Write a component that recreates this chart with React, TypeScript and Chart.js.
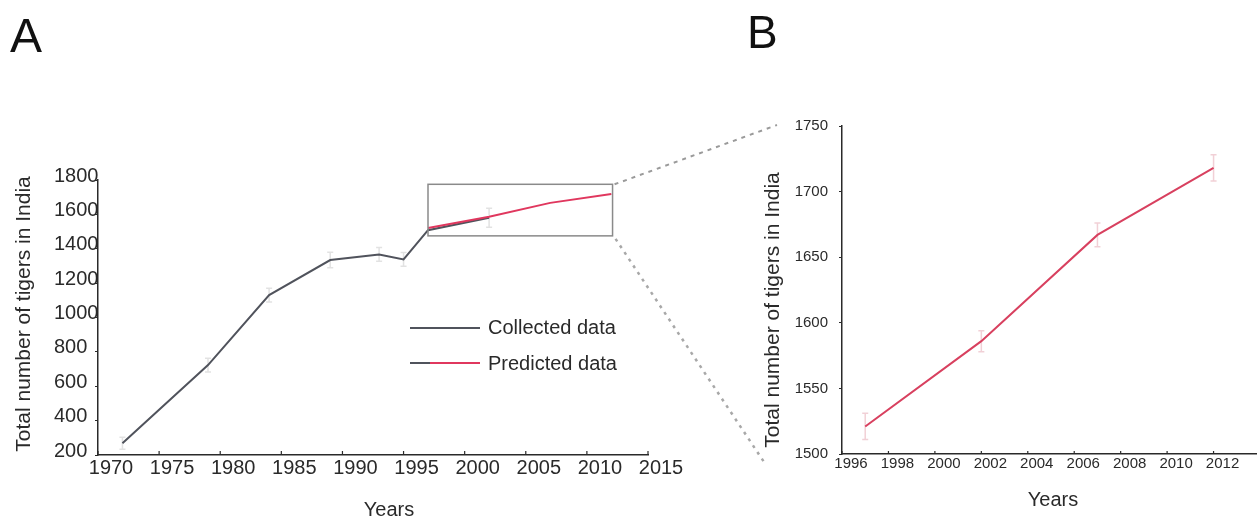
import React, { useEffect, useRef } from "react";
import { Chart, registerables } from "chart.js";

Chart.register(...registerables);

const FONT = '"Liberation Sans", Arial, Helvetica, sans-serif';

// ---- data ----
const collectedYears = [1972, 1979, 1984, 1989, 1993, 1995, 1997, 2002];
const collectedValues = [268, 723, 1130, 1334, 1367, 1338, 1508, 1580];
const collectedErrors = [35, 40, 40, 45, 40, 40, 0, 55];

const predictedYears = [1997, 2002, 2007, 2012];
const predictedValues = [1521, 1586, 1667, 1718];
const predictedErrors = [10, 8, 9, 10];

const leftXTicks = [1970, 1975, 1980, 1985, 1990, 1995, 2000, 2005, 2010, 2015];
const leftYTicks = [200, 400, 600, 800, 1000, 1200, 1400, 1600, 1800];
const rightXTicks = [1996, 1998, 2000, 2002, 2004, 2006, 2008, 2010, 2012];
const rightYTicks = [1500, 1550, 1600, 1650, 1700, 1750];

const zoomBoxYears = [1997, 2012.1];
const zoomBoxValues = [1475, 1775];

const legendLabels = ["Collected data", "Predicted data"];
const xTitle = "Years";
const yTitle = "Total number of tigers in India";

const GRAY = "#50535c";
const RED = "#e0375e";
const RED_B = "#d8405f";
const AXIS = "#2a2a2a";

const errorBarPlugin = {
  id: "errorBars",
  beforeDatasetsDraw(chart: any) {
    const ctx = chart.ctx;
    const yS = chart.scales.y;
    chart.data.datasets.forEach((ds: any, i: number) => {
      if (!ds.errors) return;
      const meta = chart.getDatasetMeta(i);
      ctx.save();
      ctx.strokeStyle = ds.errorColor;
      ctx.lineWidth = 1.5;
      meta.data.forEach((pt: any, j: number) => {
        const e = ds.errors[j];
        if (!e) return;
        const v = ds.data[j].y;
        const y0 = yS.getPixelForValue(v - e);
        const y1 = yS.getPixelForValue(v + e);
        ctx.beginPath();
        ctx.moveTo(pt.x, y0);
        ctx.lineTo(pt.x, y1);
        ctx.moveTo(pt.x - 3, y0);
        ctx.lineTo(pt.x + 3, y0);
        ctx.moveTo(pt.x - 3, y1);
        ctx.lineTo(pt.x + 3, y1);
        ctx.stroke();
      });
      ctx.restore();
    });
  },
};

function inwardTicks(chart: any, values: number[], len: number) {
  const ctx = chart.ctx;
  const xS = chart.scales.x;
  const b = chart.chartArea.bottom;
  ctx.save();
  ctx.strokeStyle = AXIS;
  ctx.lineWidth = 1.2;
  values.forEach((v) => {
    const px = xS.getPixelForValue(v);
    ctx.beginPath();
    ctx.moveTo(px, b);
    ctx.lineTo(px, b - len);
    ctx.stroke();
  });
  ctx.restore();
}

function drawText(ctx: any, text: string, x: number, y: number, size: number, rot = 0, color = "#2a2a2a") {
  ctx.save();
  ctx.translate(x, y);
  ctx.rotate(rot);
  ctx.font = `${size}px ${FONT}`;
  ctx.fillStyle = color;
  ctx.textAlign = "center";
  ctx.textBaseline = "middle";
  ctx.fillText(text, 0, 0);
  ctx.restore();
}

const leftDecor = {
  id: "leftDecor",
  afterDraw(chart: any) {
    const ctx = chart.ctx;
    const xS = chart.scales.x;
    const yS = chart.scales.y;
    inwardTicks(chart, leftXTicks, 4);

    // zoom rectangle
    const rx0 = xS.getPixelForValue(zoomBoxYears[0]);
    const rx1 = xS.getPixelForValue(zoomBoxYears[1]);
    const ry0 = yS.getPixelForValue(zoomBoxValues[1]);
    const ry1 = yS.getPixelForValue(zoomBoxValues[0]);
    ctx.save();
    ctx.strokeStyle = "#8a8a8a";
    ctx.lineWidth = 1.5;
    ctx.strokeRect(rx0, ry0, rx1 - rx0, ry1 - ry0);

    // connectors to panel B
    ctx.strokeStyle = "#9a9a9a";
    ctx.lineWidth = 2;
    ctx.setLineDash([4, 5]);
    ctx.beginPath();
    ctx.moveTo(rx1 + 2, ry0);
    ctx.lineTo(777, 125);
    ctx.stroke();
    ctx.strokeStyle = "#a8a8a8";
    ctx.lineWidth = 2.5;
    ctx.setLineDash([3, 5]);
    ctx.beginPath();
    ctx.moveTo(rx1 + 3, ry1 + 3);
    ctx.lineTo(764, 462);
    ctx.stroke();
    ctx.restore();

    // legend
    ctx.save();
    ctx.lineWidth = 2;
    ctx.strokeStyle = GRAY;
    ctx.beginPath();
    ctx.moveTo(410, 328);
    ctx.lineTo(480, 328);
    ctx.stroke();
    ctx.beginPath();
    ctx.moveTo(410, 363);
    ctx.lineTo(432, 363);
    ctx.stroke();
    ctx.strokeStyle = RED;
    ctx.beginPath();
    ctx.moveTo(430, 363);
    ctx.lineTo(480, 363);
    ctx.stroke();
    ctx.font = `20px ${FONT}`;
    ctx.fillStyle = "#2a2a2a";
    ctx.textAlign = "left";
    ctx.textBaseline = "middle";
    ctx.fillText(legendLabels[0], 488, 328);
    ctx.fillText(legendLabels[1], 488, 364);
    ctx.restore();

    // titles
    drawText(ctx, yTitle, 24, 314, 21, -Math.PI / 2);
    drawText(ctx, xTitle, 389, 510, 20);
    ctx.save();
    ctx.font = `48px ${FONT}`;
    ctx.fillStyle = "#111";
    ctx.textAlign = "left";
    ctx.textBaseline = "alphabetic";
    ctx.fillText("A", 10, 52);
    ctx.restore();
  },
};

const rightDecor = {
  id: "rightDecor",
  afterDraw(chart: any) {
    const ctx = chart.ctx;
    inwardTicks(chart, rightXTicks, 3);
    drawText(ctx, yTitle, 33, 310, 21, -Math.PI / 2);
    drawText(ctx, xTitle, 313, 500, 20);
    ctx.save();
    ctx.font = `46px ${FONT}`;
    ctx.fillStyle = "#111";
    ctx.textAlign = "left";
    ctx.textBaseline = "alphabetic";
    ctx.fillText("B", 7, 48);
    ctx.restore();
  },
};

const pts = (xs: number[], ys: number[]) => xs.map((x, i) => ({ x, y: ys[i] }));

export default function App() {
  const leftRef = useRef<HTMLCanvasElement>(null);
  const rightRef = useRef<HTMLCanvasElement>(null);

  useEffect(() => {
    const left = new Chart(leftRef.current as HTMLCanvasElement, {
      type: "line",
      data: {
        datasets: [
          {
            label: legendLabels[0],
            data: pts(collectedYears, collectedValues),
            borderColor: GRAY,
            borderWidth: 2,
            pointRadius: 0,
            order: 1,
            errors: collectedErrors,
            errorColor: "rgba(160,160,160,0.3)",
          } as any,
          {
            label: legendLabels[1],
            data: pts(predictedYears, predictedValues),
            borderColor: RED,
            borderWidth: 2,
            pointRadius: 0,
            order: 0,
          },
        ],
      },
      options: {
        animation: false,
        responsive: false,
        layout: { padding: { left: 54, top: 180, right: 152, bottom: 0 } },
        plugins: { legend: { display: false }, tooltip: { enabled: false } },
        scales: {
          x: {
            type: "linear",
            min: 1970,
            max: 2015,
            afterBuildTicks: (s: any) => {
              s.ticks = leftXTicks.map((v) => ({ value: v }));
            },
            afterFit: (s: any) => {
              s.height = 63;
            },
            grid: { drawOnChartArea: false, drawTicks: false },
            border: { display: true, color: AXIS, width: 1.5 },
            ticks: {
              font: { family: FONT, size: 20 },
              color: "#2a2a2a",
              padding: 1,
              labelOffset: 13,
              maxRotation: 0,
              autoSkip: false,
              callback: (v: any) => String(v),
            },
          },
          y: {
            type: "linear",
            min: 200,
            max: 1800,
            afterBuildTicks: (s: any) => {
              s.ticks = leftYTicks.map((v) => ({ value: v }));
            },
            afterFit: (s: any) => {
              s.width = 44;
            },
            grid: { drawOnChartArea: false, drawTicks: true, tickLength: 3, color: AXIS },
            border: { display: true, color: AXIS, width: 1.5 },
            ticks: {
              font: { family: FONT, size: 20 },
              color: "#2a2a2a",
              crossAlign: "far",
              labelOffset: -4,
              autoSkip: false,
              callback: (v: any) => String(v),
            },
          },
        },
      },
      plugins: [errorBarPlugin, leftDecor],
    } as any);

    const right = new Chart(rightRef.current as HTMLCanvasElement, {
      type: "line",
      data: {
        datasets: [
          {
            label: legendLabels[1],
            data: pts(predictedYears, predictedValues),
            borderColor: RED_B,
            borderWidth: 2,
            pointRadius: 0,
            errors: predictedErrors,
            errorColor: "rgba(225,150,165,0.45)",
          } as any,
        ],
      },
      options: {
        animation: false,
        responsive: false,
        layout: { padding: { left: 0, top: 126, right: 20, bottom: 0 } },
        plugins: { legend: { display: false }, tooltip: { enabled: false } },
        scales: {
          x: {
            type: "linear",
            min: 1996,
            max: 2014,
            afterBuildTicks: (s: any) => {
              s.ticks = rightXTicks.map((v) => ({ value: v }));
            },
            afterFit: (s: any) => {
              s.height = 64;
            },
            grid: { drawOnChartArea: false, drawTicks: false },
            border: { display: true, color: AXIS, width: 1.5 },
            ticks: {
              font: { family: FONT, size: 15 },
              color: "#2a2a2a",
              padding: 1,
              labelOffset: 9,
              maxRotation: 0,
              autoSkip: false,
              callback: (v: any) => String(v),
            },
          },
          y: {
            type: "linear",
            min: 1500,
            max: 1750,
            afterBuildTicks: (s: any) => {
              s.ticks = rightYTicks.map((v) => ({ value: v }));
            },
            afterFit: (s: any) => {
              s.width = 102;
            },
            grid: { drawOnChartArea: false, drawTicks: true, tickLength: 3, color: AXIS },
            border: { display: true, color: AXIS, width: 1.5 },
            ticks: {
              font: { family: FONT, size: 15 },
              color: "#2a2a2a",
              padding: 11,
              autoSkip: false,
              callback: (v: any) => String(v),
            },
          },
        },
      },
      plugins: [errorBarPlugin, rightDecor],
    } as any);

    return () => {
      left.destroy();
      right.destroy();
    };
  }, []);

  return (
    <div
      style={{
        position: "fixed",
        left: 0,
        top: 0,
        width: 1257,
        height: 518,
        overflow: "hidden",
        background: "#fff",
      }}
    >
      <canvas
        ref={leftRef}
        width={800}
        height={518}
        style={{ position: "absolute", left: 0, top: 0, width: 800, height: 518 }}
      />
      <canvas
        ref={rightRef}
        width={540}
        height={518}
        style={{ position: "absolute", left: 740, top: 0, width: 540, height: 518 }}
      />
    </div>
  );
}
